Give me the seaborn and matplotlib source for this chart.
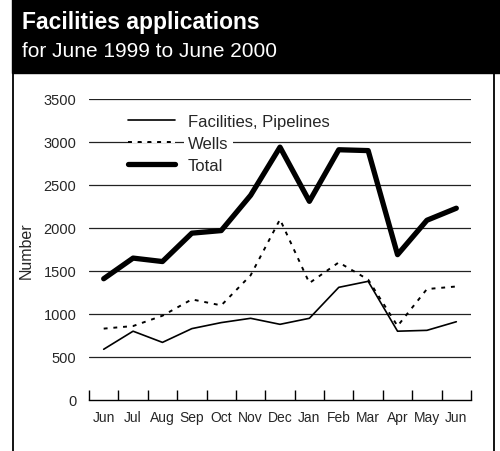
import matplotlib
matplotlib.use("Agg")
import matplotlib.pyplot as plt
from matplotlib.patches import Rectangle
import pandas as pd
import seaborn as sns

sns.set_style("white")
plt.rcParams['font.family'] = ['Liberation Sans', 'DejaVu Sans']

# values
months = ['Jun', 'Jul', 'Aug', 'Sep', 'Oct', 'Nov', 'Dec',
          'Jan', 'Feb', 'Mar', 'Apr', 'May', 'Jun']
facilities = [590, 800, 670, 830, 900, 950, 880, 950, 1310, 1380, 800, 810, 910]
wells = [830, 860, 980, 1170, 1100, 1450, 2100, 1360, 1600, 1400, 860, 1290, 1320]
total = [1410, 1650, 1610, 1940, 1970, 2380, 2940, 2310, 2910, 2900, 1690, 2090, 2230]
yticks = [0, 500, 1000, 1500, 2000, 2500, 3000, 3500]

df = pd.DataFrame({'pos': range(len(months)), 'Facilities, Pipelines': facilities,
                   'Wells': wells, 'Total': total})

fig = plt.figure(figsize=(5, 4.52), dpi=100)

# black header band and white panel frame
fig.patches.append(Rectangle((12/500, 1 - 74/452), 488/500, 74/452,
                             transform=fig.transFigure, color='black', zorder=0))
fig.patches.append(Rectangle((12.5/500, -0.05), 481.5/500, 1.05 - 74/452,
                             transform=fig.transFigure, fill=False,
                             edgecolor='black', lw=1.3, zorder=0))
fig.text(22/500, 1 - 29/452, 'Facilities applications', color='white',
         fontsize=16.5, fontweight='bold', va='baseline', ha='left')
fig.text(22/500, 1 - 57/452, 'for June 1999 to June 2000', color='white',
         fontsize=15, va='baseline', ha='left')

ax = fig.add_axes([89/500, 1 - 401/452, 382/500, 301/452])
ax.set_facecolor('none')

sns.lineplot(data=df, x='pos', y='Facilities, Pipelines', ax=ax, color='black',
             lw=1.2, label='Facilities, Pipelines', zorder=3)
sns.lineplot(data=df, x='pos', y='Wells', ax=ax, color='black', lw=1.4,
             dashes=(2, 3), label='Wells', zorder=3)
sns.lineplot(data=df, x='pos', y='Total', ax=ax, color='black', lw=3.8,
             label='Total', zorder=4)

ax.set_xlim(-0.5, len(months) - 0.5)
ax.set_ylim(0, 3500)
for v in yticks[1:]:
    ax.axhline(v, color='#222222', lw=0.9, zorder=1)

for side in ['top', 'right', 'left']:
    ax.spines[side].set_visible(False)
ax.spines['bottom'].set_color('black')
ax.spines['bottom'].set_linewidth(1.0)

ax.set_yticks(yticks)
ax.set_yticklabels([str(v) for v in yticks], fontsize=10.5)
ax.tick_params(axis='y', length=0, pad=9)

# ticks sit between months, labels under each month
ax.set_xticks([i - 0.5 for i in range(len(months) + 1)])
ax.set_xticklabels([])
ax.set_xticks(range(len(months)), minor=True)
ax.set_xticklabels(months, minor=True, fontsize=10)
ax.tick_params(axis='x', which='major', direction='in', length=7, width=1,
               color='black', bottom=True)
ax.tick_params(axis='x', which='minor', length=0, pad=7, bottom=True)

ax.set_xlabel('')
ax.set_ylabel('Number', fontsize=11.5, labelpad=7)

leg = ax.legend(loc='upper left', bbox_to_anchor=(0.102, 0.95), frameon=False,
                fontsize=12, handlelength=2.8, handletextpad=0.8,
                labelspacing=0.42, borderpad=0, borderaxespad=0)
leg.set_zorder(5)
leg.get_lines()[1].set_gapcolor('white')
leg.get_texts()[1].set_bbox(dict(facecolor='white', edgecolor='none', pad=3))

fig.savefig('out.png', dpi=100)
